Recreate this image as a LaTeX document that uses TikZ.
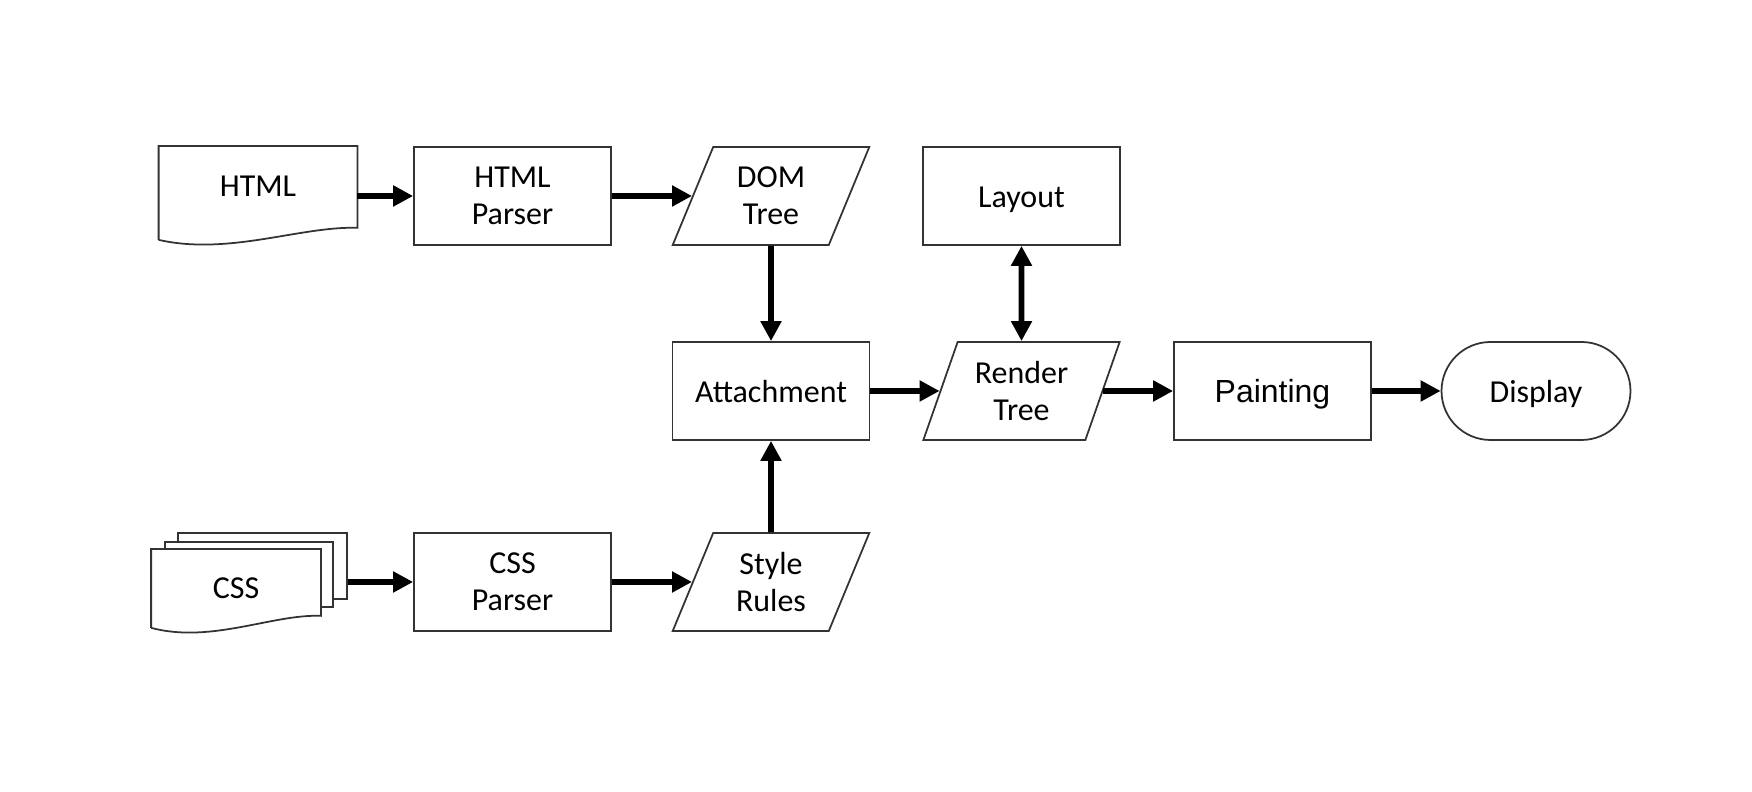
\documentclass[tikz,border=0pt]{standalone}
\usepackage{fontspec}
\setmainfont{Carlito}
\newfontfamily\arialfont{Liberation Sans}
\usetikzlibrary{arrows.meta,positioning,shapes.geometric,shapes.misc,backgrounds}
\tikzset{
  procbox/.style={draw=black!80,rectangle,line width=0.5pt,minimum width=1.97cm,minimum height=0.98cm,
    inner sep=1pt,align=center,font=\fontsize{9.1pt}{10.6pt}\selectfont},
  oneline/.style={text height=0.23cm,text depth=0cm},
  databox/.style={procbox,trapezium,trapezium left angle=68,trapezium right angle=112,trapezium stretches=true},
  termbox/.style={procbox,oneline,rounded rectangle,minimum width=1.96cm},
  docnode/.style={procbox,oneline,draw=none},
  sheet/.style={draw=black!80,fill=white,line width=0.5pt,inner sep=0pt},
  flowArrow/.style={-{Triangle[length=2mm,width=2mm]},line width=1.6pt},
  bothArrow/.style={{Triangle[length=2mm,width=2mm]}-{Triangle[length=2mm,width=2mm]},line width=1.6pt}
}

\begin{document}
\begin{tikzpicture}
  \useasboundingbox (0,0) rectangle (17.52,7.92);

  % top row
  \node[docnode,minimum height=0.92cm,text depth=0.15cm] (html) at (2.58,5.99) {HTML};
  \draw[draw=black!80,line width=0.5pt] (html.south west) -- (html.north west) -- (html.north east)
    -- ([yshift=0.12cm]html.south east) .. controls +(-0.56,0.02) and +(0.70,-0.16) .. (html.south west);
  \node[procbox] (hparser) at (5.125,5.96) {HTML\\Parser};
  \node[databox] (dom) at (7.71,5.96) {DOM\\Tree};
  \node[procbox,oneline] (layout) at (10.215,5.96) {Layout};

  % middle row
  \node[procbox,oneline] (attach) at (7.71,4.01) {Attachment};
  \node[databox] (render) at (10.215,4.01) {Render\\Tree};
  \node[procbox,oneline,font=\arialfont\fontsize{9.1pt}{10.6pt}\selectfont] (paint) at (12.725,4.01) {Painting};
  \node[termbox] (display) at (15.36,4.01) {Display};

  % bottom row
  \node[docnode,minimum width=1.68cm,minimum height=0.77cm,text depth=0.03cm] (css) at (2.36,2.035) {CSS};
  \begin{scope}[on background layer]
    \node[sheet,minimum width=1.69cm,minimum height=0.66cm] (css3) at (2.625,2.26) {};
    \node[sheet,minimum width=1.68cm,minimum height=0.65cm] (css2) at (2.49,2.175) {};
    \draw[draw=black!80,fill=white,line width=0.5pt] (css.south west) -- (css.north west) -- (css.north east)
      -- ([yshift=0.12cm]css.south east) .. controls +(-0.48,0.02) and +(0.60,-0.16) .. (css.south west);
  \end{scope}
  \node[procbox] (cparser) at (5.125,2.10) {CSS\\Parser};
  \node[databox] (rules) at (7.71,2.10) {Style\\Rules};

  % arrows
  \draw[flowArrow] (html.east |- hparser.west) -- (hparser.west);
  \draw[flowArrow] (hparser.east) -- (dom.left side);
  \draw[flowArrow] (dom.south) -- (attach.north);
  \draw[flowArrow] (rules.north) -- (attach.south);
  \draw[flowArrow] (attach.east) -- (render.left side);
  \draw[flowArrow] (render.right side) -- (paint.west);
  \draw[flowArrow] (paint.east) -- (display.west);
  \draw[bothArrow] (layout.south) -- (render.north);
  \draw[flowArrow] (css3.east |- cparser.west) -- (cparser.west);
  \draw[flowArrow] (cparser.east) -- (rules.left side);
\end{tikzpicture}
\end{document}
